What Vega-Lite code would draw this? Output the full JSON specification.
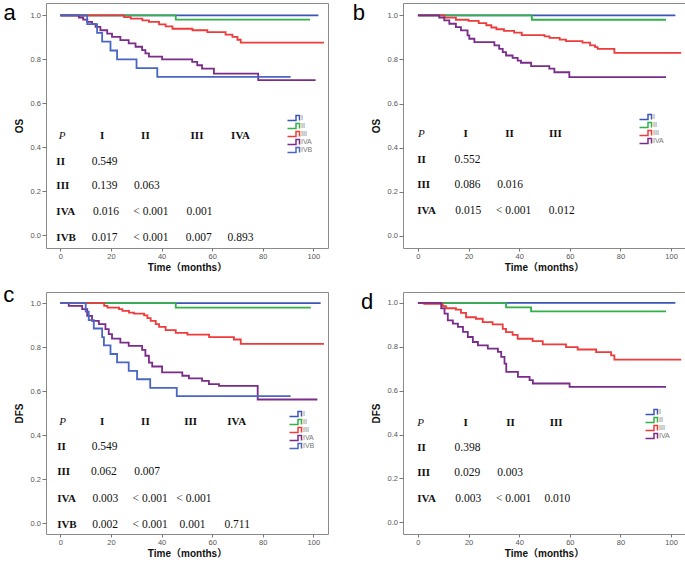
{
  "$schema": "https://vega.github.io/schema/vega-lite/v6.json",
  "background": "white",
  "padding": {"left": 2, "top": 1, "right": 0, "bottom": 0},
  "bounds": "flush",
  "columns": 2,
  "spacing": {"row": 44, "column": 75},
  "config": {
    "view": {"stroke": "#8a8a8a", "strokeWidth": 1},
    "axis": {"domain": false, "grid": false, "labelFont": "Liberation Sans", "labelFontSize": 7.5, "labelColor": "#555555", "tickColor": "#777777", "titleFont": "Liberation Sans, Noto Sans CJK SC", "titleFontSize": 10, "titleFontWeight": "bold", "titleColor": "#111111"},
    "axisX": {"tickSize": 3, "labelPadding": 1, "titlePadding": 3},
    "axisY": {"tickSize": 4, "labelPadding": 1.5, "titlePadding": 6},
    "legend": {"orient": "none", "title": null, "symbolType": "M-0.8,1L2.6,1L2.6,-1L4,-1L4,1", "symbolSize": 25, "symbolStrokeWidth": 1.5, "symbolFillColor": "transparent", "labelFont": "Liberation Sans", "labelFontSize": 7, "labelColor": "#777777", "rowPadding": 0, "clipHeight": 8, "labelOffset": 8, "padding": 0}
  },
  "datasets": {
    "curves": [
      {"p":"a","g":"I","t":0,"s":1},{"p":"a","g":"I","t":102,"s":1},
      {"p":"a","g":"II","t":0,"s":1},{"p":"a","g":"II","t":45.6,"s":0.98},{"p":"a","g":"II","t":98.7,"s":0.98},
      {"p":"a","g":"III","t":0,"s":1},{"p":"a","g":"III","t":25.2,"s":0.992},{"p":"a","g":"III","t":27.8,"s":0.985},{"p":"a","g":"III","t":32.4,"s":0.977},{"p":"a","g":"III","t":35,"s":0.97},{"p":"a","g":"III","t":39,"s":0.959},{"p":"a","g":"III","t":41.6,"s":0.95},{"p":"a","g":"III","t":44.3,"s":0.939},{"p":"a","g":"III","t":52.2,"s":0.932},{"p":"a","g":"III","t":58.1,"s":0.924},{"p":"a","g":"III","t":65.3,"s":0.912},{"p":"a","g":"III","t":68,"s":0.902},{"p":"a","g":"III","t":70,"s":0.889},{"p":"a","g":"III","t":71.3,"s":0.876},{"p":"a","g":"III","t":104.2,"s":0.876},
      {"p":"a","g":"IVA","t":0,"s":1},{"p":"a","g":"IVA","t":7.3,"s":0.99},{"p":"a","g":"IVA","t":9,"s":0.98},{"p":"a","g":"IVA","t":10.6,"s":0.97},{"p":"a","g":"IVA","t":12.5,"s":0.96},{"p":"a","g":"IVA","t":13.9,"s":0.947},{"p":"a","g":"IVA","t":15.8,"s":0.932},{"p":"a","g":"IVA","t":18.5,"s":0.917},{"p":"a","g":"IVA","t":20.4,"s":0.902},{"p":"a","g":"IVA","t":23.7,"s":0.887},{"p":"a","g":"IVA","t":27,"s":0.872},{"p":"a","g":"IVA","t":29.7,"s":0.857},{"p":"a","g":"IVA","t":32.3,"s":0.842},{"p":"a","g":"IVA","t":33.6,"s":0.827},{"p":"a","g":"IVA","t":35,"s":0.812},{"p":"a","g":"IVA","t":40.2,"s":0.8},{"p":"a","g":"IVA","t":52.1,"s":0.788},{"p":"a","g":"IVA","t":54.1,"s":0.773},{"p":"a","g":"IVA","t":56,"s":0.758},{"p":"a","g":"IVA","t":60.7,"s":0.735},{"p":"a","g":"IVA","t":78.2,"s":0.705},{"p":"a","g":"IVA","t":100.9,"s":0.705},
      {"p":"a","g":"IVB","t":0,"s":1},{"p":"a","g":"IVB","t":10.6,"s":0.96},{"p":"a","g":"IVB","t":14.5,"s":0.92},{"p":"a","g":"IVB","t":16.5,"s":0.88},{"p":"a","g":"IVB","t":19.8,"s":0.84},{"p":"a","g":"IVB","t":22.4,"s":0.8},{"p":"a","g":"IVB","t":30.1,"s":0.76},{"p":"a","g":"IVB","t":38.3,"s":0.72},{"p":"a","g":"IVB","t":91,"s":0.72},

      {"p":"b","g":"I","t":0,"s":1},{"p":"b","g":"I","t":101.7,"s":1},
      {"p":"b","g":"II","t":0,"s":1},{"p":"b","g":"II","t":45,"s":0.98},{"p":"b","g":"II","t":98,"s":0.98},
      {"p":"b","g":"III","t":0,"s":1},{"p":"b","g":"III","t":10.5,"s":0.99},{"p":"b","g":"III","t":15,"s":0.98},{"p":"b","g":"III","t":20,"s":0.975},{"p":"b","g":"III","t":24,"s":0.965},{"p":"b","g":"III","t":27,"s":0.955},{"p":"b","g":"III","t":29,"s":0.945},{"p":"b","g":"III","t":31,"s":0.937},{"p":"b","g":"III","t":34,"s":0.93},{"p":"b","g":"III","t":38,"s":0.922},{"p":"b","g":"III","t":41,"s":0.91},{"p":"b","g":"III","t":50,"s":0.905},{"p":"b","g":"III","t":52,"s":0.898},{"p":"b","g":"III","t":56,"s":0.89},{"p":"b","g":"III","t":58.5,"s":0.883},{"p":"b","g":"III","t":65,"s":0.876},{"p":"b","g":"III","t":68,"s":0.864},{"p":"b","g":"III","t":70,"s":0.856},{"p":"b","g":"III","t":71,"s":0.848},{"p":"b","g":"III","t":77.6,"s":0.83},{"p":"b","g":"III","t":104,"s":0.83},
      {"p":"b","g":"IVA","t":0,"s":1},{"p":"b","g":"IVA","t":8.4,"s":0.99},{"p":"b","g":"IVA","t":10.4,"s":0.977},{"p":"b","g":"IVA","t":12.4,"s":0.962},{"p":"b","g":"IVA","t":15,"s":0.947},{"p":"b","g":"IVA","t":17,"s":0.932},{"p":"b","g":"IVA","t":19.6,"s":0.909},{"p":"b","g":"IVA","t":20.3,"s":0.894},{"p":"b","g":"IVA","t":22.3,"s":0.879},{"p":"b","g":"IVA","t":30.2,"s":0.864},{"p":"b","g":"IVA","t":32.1,"s":0.848},{"p":"b","g":"IVA","t":33.5,"s":0.833},{"p":"b","g":"IVA","t":34.8,"s":0.818},{"p":"b","g":"IVA","t":37.4,"s":0.807},{"p":"b","g":"IVA","t":39.4,"s":0.795},{"p":"b","g":"IVA","t":40.7,"s":0.785},{"p":"b","g":"IVA","t":44.7,"s":0.77},{"p":"b","g":"IVA","t":51.9,"s":0.758},{"p":"b","g":"IVA","t":53.9,"s":0.742},{"p":"b","g":"IVA","t":59.8,"s":0.72},{"p":"b","g":"IVA","t":98,"s":0.72},

      {"p":"c","g":"I","t":0,"s":1},{"p":"c","g":"I","t":102.9,"s":1},
      {"p":"c","g":"II","t":0,"s":1},{"p":"c","g":"II","t":45.6,"s":0.98},{"p":"c","g":"II","t":99,"s":0.98},
      {"p":"c","g":"III","t":0,"s":1},{"p":"c","g":"III","t":17.3,"s":0.988},{"p":"c","g":"III","t":18.6,"s":0.98},{"p":"c","g":"III","t":23.2,"s":0.973},{"p":"c","g":"III","t":24.5,"s":0.965},{"p":"c","g":"III","t":27.1,"s":0.957},{"p":"c","g":"III","t":29.1,"s":0.953},{"p":"c","g":"III","t":33.1,"s":0.945},{"p":"c","g":"III","t":34.4,"s":0.932},{"p":"c","g":"III","t":35.7,"s":0.92},{"p":"c","g":"III","t":37.7,"s":0.905},{"p":"c","g":"III","t":39,"s":0.892},{"p":"c","g":"III","t":41.6,"s":0.878},{"p":"c","g":"III","t":45.6,"s":0.865},{"p":"c","g":"III","t":50.2,"s":0.857},{"p":"c","g":"III","t":58.8,"s":0.846},{"p":"c","g":"III","t":68.6,"s":0.835},{"p":"c","g":"III","t":71.3,"s":0.815},{"p":"c","g":"III","t":104.2,"s":0.815},
      {"p":"c","g":"IVA","t":0,"s":1},{"p":"c","g":"IVA","t":3.3,"s":0.988},{"p":"c","g":"IVA","t":8.6,"s":0.973},{"p":"c","g":"IVA","t":10.6,"s":0.942},{"p":"c","g":"IVA","t":12.5,"s":0.92},{"p":"c","g":"IVA","t":15.2,"s":0.905},{"p":"c","g":"IVA","t":17.8,"s":0.882},{"p":"c","g":"IVA","t":19.1,"s":0.859},{"p":"c","g":"IVA","t":20.4,"s":0.839},{"p":"c","g":"IVA","t":23.7,"s":0.821},{"p":"c","g":"IVA","t":27,"s":0.806},{"p":"c","g":"IVA","t":32.3,"s":0.788},{"p":"c","g":"IVA","t":33.6,"s":0.761},{"p":"c","g":"IVA","t":35,"s":0.73},{"p":"c","g":"IVA","t":36.3,"s":0.712},{"p":"c","g":"IVA","t":40.2,"s":0.685},{"p":"c","g":"IVA","t":48.2,"s":0.67},{"p":"c","g":"IVA","t":50.8,"s":0.658},{"p":"c","g":"IVA","t":56,"s":0.647},{"p":"c","g":"IVA","t":58.7,"s":0.632},{"p":"c","g":"IVA","t":62.7,"s":0.624},{"p":"c","g":"IVA","t":78,"s":0.562},{"p":"c","g":"IVA","t":101.6,"s":0.562},
      {"p":"c","g":"IVB","t":0,"s":1},{"p":"c","g":"IVB","t":10,"s":0.962},{"p":"c","g":"IVB","t":11.2,"s":0.923},{"p":"c","g":"IVB","t":13.2,"s":0.885},{"p":"c","g":"IVB","t":16.5,"s":0.846},{"p":"c","g":"IVB","t":17.2,"s":0.808},{"p":"c","g":"IVB","t":19.8,"s":0.769},{"p":"c","g":"IVB","t":22.4,"s":0.731},{"p":"c","g":"IVB","t":27,"s":0.692},{"p":"c","g":"IVB","t":30.3,"s":0.654},{"p":"c","g":"IVB","t":35.5,"s":0.615},{"p":"c","g":"IVB","t":46,"s":0.577},{"p":"c","g":"IVB","t":91,"s":0.577},

      {"p":"d","g":"I","t":0,"s":1},{"p":"d","g":"I","t":101.7,"s":1},
      {"p":"d","g":"II","t":0,"s":1},{"p":"d","g":"II","t":34.8,"s":0.98},{"p":"d","g":"II","t":44.7,"s":0.962},{"p":"d","g":"II","t":98,"s":0.962},
      {"p":"d","g":"III","t":0,"s":1},{"p":"d","g":"III","t":2.5,"s":0.996},{"p":"d","g":"III","t":9.8,"s":0.985},{"p":"d","g":"III","t":11.1,"s":0.976},{"p":"d","g":"III","t":15,"s":0.97},{"p":"d","g":"III","t":17,"s":0.955},{"p":"d","g":"III","t":19,"s":0.935},{"p":"d","g":"III","t":22.9,"s":0.928},{"p":"d","g":"III","t":25.6,"s":0.913},{"p":"d","g":"III","t":29.5,"s":0.902},{"p":"d","g":"III","t":33.5,"s":0.882},{"p":"d","g":"III","t":34.8,"s":0.867},{"p":"d","g":"III","t":37.4,"s":0.855},{"p":"d","g":"III","t":39.4,"s":0.837},{"p":"d","g":"III","t":45.3,"s":0.826},{"p":"d","g":"III","t":49.3,"s":0.811},{"p":"d","g":"III","t":58.5,"s":0.799},{"p":"d","g":"III","t":63.1,"s":0.788},{"p":"d","g":"III","t":70.4,"s":0.776},{"p":"d","g":"III","t":76.3,"s":0.761},{"p":"d","g":"III","t":77.6,"s":0.742},{"p":"d","g":"III","t":104,"s":0.742},
      {"p":"d","g":"IVA","t":0,"s":1},{"p":"d","g":"IVA","t":9.2,"s":0.975},{"p":"d","g":"IVA","t":10.5,"s":0.951},{"p":"d","g":"IVA","t":11.8,"s":0.921},{"p":"d","g":"IVA","t":13.8,"s":0.906},{"p":"d","g":"IVA","t":15.8,"s":0.891},{"p":"d","g":"IVA","t":17.8,"s":0.868},{"p":"d","g":"IVA","t":19.7,"s":0.845},{"p":"d","g":"IVA","t":21.7,"s":0.822},{"p":"d","g":"IVA","t":23.7,"s":0.807},{"p":"d","g":"IVA","t":27.6,"s":0.792},{"p":"d","g":"IVA","t":31.6,"s":0.777},{"p":"d","g":"IVA","t":32.9,"s":0.754},{"p":"d","g":"IVA","t":34.2,"s":0.724},{"p":"d","g":"IVA","t":34.9,"s":0.686},{"p":"d","g":"IVA","t":39.5,"s":0.663},{"p":"d","g":"IVA","t":44.1,"s":0.648},{"p":"d","g":"IVA","t":45.4,"s":0.633},{"p":"d","g":"IVA","t":59.9,"s":0.618},{"p":"d","g":"IVA","t":98,"s":0.618}
    ],
    "notes": [
      {"p":"a","k":"L","t":-20.1,"s":0.98,"txt":"a"},
      {"p":"a","k":"P","t":0.7,"s":0.45,"txt":"P"},
      {"p":"a","k":"h","t":16.5,"s":0.45,"txt":"I"},{"p":"a","k":"h","t":33.6,"s":0.45,"txt":"II"},{"p":"a","k":"h","t":54,"s":0.45,"txt":"III"},{"p":"a","k":"h","t":71.2,"s":0.45,"txt":"IVA"},
      {"p":"a","k":"r","t":-1.6,"s":0.335,"txt":"II"},{"p":"a","k":"r","t":-1.6,"s":0.223,"txt":"III"},{"p":"a","k":"r","t":-1.6,"s":0.105,"txt":"IVA"},{"p":"a","k":"r","t":-1.6,"s":-0.014,"txt":"IVB"},
      {"p":"a","k":"v","t":17.5,"s":0.335,"txt":"0.549"},
      {"p":"a","k":"v","t":17.5,"s":0.223,"txt":"0.139"},{"p":"a","k":"v","t":34.2,"s":0.223,"txt":"0.063"},
      {"p":"a","k":"v","t":18,"s":0.105,"txt":"0.016"},{"p":"a","k":"v","t":35.8,"s":0.105,"txt":"< 0.001"},{"p":"a","k":"v","t":55,"s":0.105,"txt":"0.001"},
      {"p":"a","k":"v","t":17.5,"s":-0.014,"txt":"0.017"},{"p":"a","k":"v","t":35.8,"s":-0.014,"txt":"< 0.001"},{"p":"a","k":"v","t":54.7,"s":-0.014,"txt":"0.007"},{"p":"a","k":"v","t":71.2,"s":-0.014,"txt":"0.893"},

      {"p":"b","k":"L","t":-23.3,"s":0.98,"txt":"b"},
      {"p":"b","k":"P","t":1.4,"s":0.462,"txt":"P"},
      {"p":"b","k":"h","t":18.8,"s":0.462,"txt":"I"},{"p":"b","k":"h","t":36.2,"s":0.462,"txt":"II"},{"p":"b","k":"h","t":54.3,"s":0.462,"txt":"III"},
      {"p":"b","k":"r","t":-0.3,"s":0.344,"txt":"II"},{"p":"b","k":"r","t":-0.3,"s":0.232,"txt":"III"},{"p":"b","k":"r","t":-0.3,"s":0.114,"txt":"IVA"},
      {"p":"b","k":"v","t":19.6,"s":0.344,"txt":"0.552"},
      {"p":"b","k":"v","t":19.6,"s":0.232,"txt":"0.086"},{"p":"b","k":"v","t":36.4,"s":0.232,"txt":"0.016"},
      {"p":"b","k":"v","t":19.9,"s":0.114,"txt":"0.015"},{"p":"b","k":"v","t":37.8,"s":0.114,"txt":"< 0.001"},{"p":"b","k":"v","t":56.8,"s":0.114,"txt":"0.012"},

      {"p":"c","k":"L","t":-20.4,"s":1.006,"txt":"c"},
      {"p":"c","k":"P","t":0.9,"s":0.458,"txt":"P"},
      {"p":"c","k":"h","t":16.5,"s":0.458,"txt":"I"},{"p":"c","k":"h","t":33.6,"s":0.458,"txt":"II"},{"p":"c","k":"h","t":51.5,"s":0.458,"txt":"III"},{"p":"c","k":"h","t":69.7,"s":0.458,"txt":"IVA"},
      {"p":"c","k":"r","t":-1.3,"s":0.344,"txt":"II"},{"p":"c","k":"r","t":-1.3,"s":0.23,"txt":"III"},{"p":"c","k":"r","t":-1.3,"s":0.109,"txt":"IVA"},{"p":"c","k":"r","t":-1.3,"s":-0.009,"txt":"IVB"},
      {"p":"c","k":"v","t":17.5,"s":0.344,"txt":"0.549"},
      {"p":"c","k":"v","t":17.2,"s":0.23,"txt":"0.062"},{"p":"c","k":"v","t":34.3,"s":0.23,"txt":"0.007"},
      {"p":"c","k":"v","t":17.8,"s":0.109,"txt":"0.003"},{"p":"c","k":"v","t":35.5,"s":0.109,"txt":"< 0.001"},{"p":"c","k":"v","t":52.8,"s":0.109,"txt":"< 0.001"},
      {"p":"c","k":"v","t":17.7,"s":-0.009,"txt":"0.002"},{"p":"c","k":"v","t":35.5,"s":-0.009,"txt":"< 0.001"},{"p":"c","k":"v","t":52.2,"s":-0.009,"txt":"0.001"},{"p":"c","k":"v","t":69.9,"s":-0.009,"txt":"0.711"},

      {"p":"d","k":"L","t":-20.1,"s":0.974,"txt":"d"},
      {"p":"d","k":"P","t":1.1,"s":0.455,"txt":"P"},
      {"p":"d","k":"h","t":18.8,"s":0.455,"txt":"I"},{"p":"d","k":"h","t":36.6,"s":0.455,"txt":"II"},{"p":"d","k":"h","t":54.6,"s":0.455,"txt":"III"},
      {"p":"d","k":"r","t":-0.3,"s":0.337,"txt":"II"},{"p":"d","k":"r","t":-0.3,"s":0.223,"txt":"III"},{"p":"d","k":"r","t":-0.3,"s":0.106,"txt":"IVA"},
      {"p":"d","k":"v","t":19.6,"s":0.337,"txt":"0.398"},
      {"p":"d","k":"v","t":19.5,"s":0.223,"txt":"0.029"},{"p":"d","k":"v","t":36.4,"s":0.223,"txt":"0.003"},
      {"p":"d","k":"v","t":19.9,"s":0.106,"txt":"0.003"},{"p":"d","k":"v","t":37.8,"s":0.106,"txt":"< 0.001"},{"p":"d","k":"v","t":55.1,"s":0.106,"txt":"0.010"}
    ]
  },
  "resolve": {"scale": {"stroke": "independent", "x": "independent", "y": "independent"}, "legend": {"stroke": "independent"}},
  "concat": [
    {
      "width": 282, "height": 245,
      "encoding": {
        "x": {"field": "t", "type": "quantitative", "scale": {"domain": [-5.7, 105.8], "nice": false, "zero": false}, "axis": {"values": [0,20,40,60,80,100], "title": "Time（months）"}},
        "y": {"field": "s", "type": "quantitative", "scale": {"domain": [-0.058, 1.056], "nice": false, "zero": false}, "axis": {"values": [0,0.2,0.4,0.6,0.8,1], "format": ".1f", "title": "OS"}}
      },
      "layer": [
        {"data": {"name": "curves"}, "transform": [{"filter": "datum.p === 'a'"}], "mark": {"type": "line", "interpolate": "step-after", "strokeWidth": 1.8},
         "encoding": {"stroke": {"field": "g", "type": "nominal", "scale": {"domain": ["I","II","III","IVA","IVB"], "range": ["#3a56b8","#33b04a","#ee3b3b","#7a2c8a","#4a66c4"]}, "legend": {"legendX": 240, "legendY": 111}}}},
        {"data": {"name": "notes"}, "transform": [{"filter": "datum.p === 'a' && datum.k === 'h'"}], "mark": {"type": "text", "font": "Liberation Serif", "fontWeight": "bold", "fontSize": 11, "align": "center", "baseline": "middle", "color": "#111111"}, "encoding": {"text": {"field": "txt"}}},
        {"data": {"name": "notes"}, "transform": [{"filter": "datum.p === 'a' && datum.k === 'r'"}], "mark": {"type": "text", "font": "Liberation Serif", "fontWeight": "bold", "fontSize": 11, "align": "left", "baseline": "middle", "color": "#111111"}, "encoding": {"text": {"field": "txt"}}},
        {"data": {"name": "notes"}, "transform": [{"filter": "datum.p === 'a' && datum.k === 'v'"}], "mark": {"type": "text", "font": "Liberation Serif", "fontSize": 11.5, "align": "center", "baseline": "middle", "color": "#111111"}, "encoding": {"text": {"field": "txt"}}},
        {"data": {"name": "notes"}, "transform": [{"filter": "datum.p === 'a' && datum.k === 'P'"}], "mark": {"type": "text", "font": "Liberation Serif", "fontStyle": "italic", "fontSize": 11, "align": "center", "baseline": "middle", "color": "#111111"}, "encoding": {"text": {"field": "txt"}}},
        {"data": {"name": "notes"}, "transform": [{"filter": "datum.p === 'a' && datum.k === 'L'"}], "mark": {"type": "text", "font": "Liberation Sans", "fontSize": 22, "align": "center", "baseline": "alphabetic", "color": "#000000"}, "encoding": {"text": {"field": "txt"}}}
      ]
    },
    {
      "width": 282, "height": 245,
      "encoding": {
        "x": {"field": "t", "type": "quantitative", "scale": {"domain": [-5.9, 105.5], "nice": false, "zero": false}, "axis": {"values": [0,20,40,60,80,100], "title": "Time（months）"}},
        "y": {"field": "s", "type": "quantitative", "scale": {"domain": [-0.055, 1.056], "nice": false, "zero": false}, "axis": {"values": [0,0.2,0.4,0.6,0.8,1], "format": ".1f", "title": "OS"}}
      },
      "layer": [
        {"data": {"name": "curves"}, "transform": [{"filter": "datum.p === 'b'"}], "mark": {"type": "line", "interpolate": "step-after", "strokeWidth": 1.8},
         "encoding": {"stroke": {"field": "g", "type": "nominal", "scale": {"domain": ["I","II","III","IVA"], "range": ["#3a56b8","#33b04a","#ee3b3b","#7a2c8a"]}, "legend": {"legendX": 235, "legendY": 110}}}},
        {"data": {"name": "notes"}, "transform": [{"filter": "datum.p === 'b' && datum.k === 'h'"}], "mark": {"type": "text", "font": "Liberation Serif", "fontWeight": "bold", "fontSize": 11, "align": "center", "baseline": "middle", "color": "#111111"}, "encoding": {"text": {"field": "txt"}}},
        {"data": {"name": "notes"}, "transform": [{"filter": "datum.p === 'b' && datum.k === 'r'"}], "mark": {"type": "text", "font": "Liberation Serif", "fontWeight": "bold", "fontSize": 11, "align": "left", "baseline": "middle", "color": "#111111"}, "encoding": {"text": {"field": "txt"}}},
        {"data": {"name": "notes"}, "transform": [{"filter": "datum.p === 'b' && datum.k === 'v'"}], "mark": {"type": "text", "font": "Liberation Serif", "fontSize": 11.5, "align": "center", "baseline": "middle", "color": "#111111"}, "encoding": {"text": {"field": "txt"}}},
        {"data": {"name": "notes"}, "transform": [{"filter": "datum.p === 'b' && datum.k === 'P'"}], "mark": {"type": "text", "font": "Liberation Serif", "fontStyle": "italic", "fontSize": 11, "align": "center", "baseline": "middle", "color": "#111111"}, "encoding": {"text": {"field": "txt"}}},
        {"data": {"name": "notes"}, "transform": [{"filter": "datum.p === 'b' && datum.k === 'L'"}], "mark": {"type": "text", "font": "Liberation Sans", "fontSize": 22, "align": "center", "baseline": "alphabetic", "color": "#000000"}, "encoding": {"text": {"field": "txt"}}}
      ]
    },
    {
      "width": 282, "height": 242,
      "encoding": {
        "x": {"field": "t", "type": "quantitative", "scale": {"domain": [-5.7, 105.8], "nice": false, "zero": false}, "axis": {"values": [0,20,40,60,80,100], "title": "Time（months）"}},
        "y": {"field": "s", "type": "quantitative", "scale": {"domain": [-0.05, 1.051], "nice": false, "zero": false}, "axis": {"values": [0,0.2,0.4,0.6,0.8,1], "format": ".1f", "title": "DFS"}}
      },
      "layer": [
        {"data": {"name": "curves"}, "transform": [{"filter": "datum.p === 'c'"}], "mark": {"type": "line", "interpolate": "step-after", "strokeWidth": 1.8},
         "encoding": {"stroke": {"field": "g", "type": "nominal", "scale": {"domain": ["I","II","III","IVA","IVB"], "range": ["#3a56b8","#33b04a","#ee3b3b","#7a2c8a","#4a66c4"]}, "legend": {"legendX": 242, "legendY": 118}}}},
        {"data": {"name": "notes"}, "transform": [{"filter": "datum.p === 'c' && datum.k === 'h'"}], "mark": {"type": "text", "font": "Liberation Serif", "fontWeight": "bold", "fontSize": 11, "align": "center", "baseline": "middle", "color": "#111111"}, "encoding": {"text": {"field": "txt"}}},
        {"data": {"name": "notes"}, "transform": [{"filter": "datum.p === 'c' && datum.k === 'r'"}], "mark": {"type": "text", "font": "Liberation Serif", "fontWeight": "bold", "fontSize": 11, "align": "left", "baseline": "middle", "color": "#111111"}, "encoding": {"text": {"field": "txt"}}},
        {"data": {"name": "notes"}, "transform": [{"filter": "datum.p === 'c' && datum.k === 'v'"}], "mark": {"type": "text", "font": "Liberation Serif", "fontSize": 11.5, "align": "center", "baseline": "middle", "color": "#111111"}, "encoding": {"text": {"field": "txt"}}},
        {"data": {"name": "notes"}, "transform": [{"filter": "datum.p === 'c' && datum.k === 'P'"}], "mark": {"type": "text", "font": "Liberation Serif", "fontStyle": "italic", "fontSize": 11, "align": "center", "baseline": "middle", "color": "#111111"}, "encoding": {"text": {"field": "txt"}}},
        {"data": {"name": "notes"}, "transform": [{"filter": "datum.p === 'c' && datum.k === 'L'"}], "mark": {"type": "text", "font": "Liberation Sans", "fontSize": 22, "align": "center", "baseline": "alphabetic", "color": "#000000"}, "encoding": {"text": {"field": "txt"}}}
      ]
    },
    {
      "width": 282, "height": 242,
      "encoding": {
        "x": {"field": "t", "type": "quantitative", "scale": {"domain": [-5.9, 105.5], "nice": false, "zero": false}, "axis": {"values": [0,20,40,60,80,100], "title": "Time（months）"}},
        "y": {"field": "s", "type": "quantitative", "scale": {"domain": [-0.053, 1.05], "nice": false, "zero": false}, "axis": {"values": [0,0.2,0.4,0.6,0.8,1], "format": ".1f", "title": "DFS"}}
      },
      "layer": [
        {"data": {"name": "curves"}, "transform": [{"filter": "datum.p === 'd'"}], "mark": {"type": "line", "interpolate": "step-after", "strokeWidth": 1.8},
         "encoding": {"stroke": {"field": "g", "type": "nominal", "scale": {"domain": ["I","II","III","IVA"], "range": ["#3a56b8","#33b04a","#ee3b3b","#7a2c8a"]}, "legend": {"legendX": 241, "legendY": 116}}}},
        {"data": {"name": "notes"}, "transform": [{"filter": "datum.p === 'd' && datum.k === 'h'"}], "mark": {"type": "text", "font": "Liberation Serif", "fontWeight": "bold", "fontSize": 11, "align": "center", "baseline": "middle", "color": "#111111"}, "encoding": {"text": {"field": "txt"}}},
        {"data": {"name": "notes"}, "transform": [{"filter": "datum.p === 'd' && datum.k === 'r'"}], "mark": {"type": "text", "font": "Liberation Serif", "fontWeight": "bold", "fontSize": 11, "align": "left", "baseline": "middle", "color": "#111111"}, "encoding": {"text": {"field": "txt"}}},
        {"data": {"name": "notes"}, "transform": [{"filter": "datum.p === 'd' && datum.k === 'v'"}], "mark": {"type": "text", "font": "Liberation Serif", "fontSize": 11.5, "align": "center", "baseline": "middle", "color": "#111111"}, "encoding": {"text": {"field": "txt"}}},
        {"data": {"name": "notes"}, "transform": [{"filter": "datum.p === 'd' && datum.k === 'P'"}], "mark": {"type": "text", "font": "Liberation Serif", "fontStyle": "italic", "fontSize": 11, "align": "center", "baseline": "middle", "color": "#111111"}, "encoding": {"text": {"field": "txt"}}},
        {"data": {"name": "notes"}, "transform": [{"filter": "datum.p === 'd' && datum.k === 'L'"}], "mark": {"type": "text", "font": "Liberation Sans", "fontSize": 22, "align": "center", "baseline": "alphabetic", "color": "#000000"}, "encoding": {"text": {"field": "txt"}}}
      ]
    }
  ]
}
